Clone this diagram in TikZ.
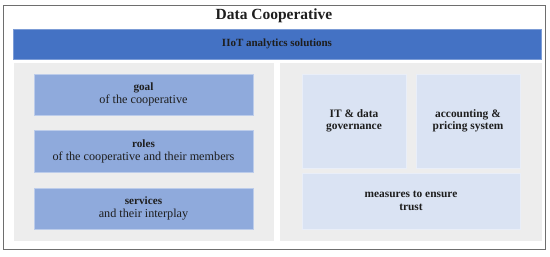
\documentclass[tikz,border=0pt]{standalone}
\usepackage{fontspec}
\setmainfont{Liberation Serif}
\usetikzlibrary{positioning}
\definecolor{dcInk}{HTML}{1E1E1E}
\definecolor{dcFrame}{HTML}{6E6E6E}
\definecolor{dcBar}{HTML}{4472C4}
\definecolor{dcMid}{HTML}{8FAADC}
\definecolor{dcPale}{HTML}{DAE3F3}
\definecolor{dcPanel}{HTML}{EDEDED}
\newcommand{\coopPart}[1]{{\fontsize{11.2}{13}\selectfont\bfseries #1}}
\tikzset{
 coop/.style={font=\fontsize{12.2}{13}\selectfont,text=dcInk},
 frame/.style={rectangle,draw=dcFrame,line width=.9pt,fill=white,inner sep=0pt},
 bar/.style={rectangle,fill=dcBar,draw=dcBar!70!white,line width=.4pt,inner sep=0pt,font=\fontsize{11}{13}\selectfont\bfseries},
 panel/.style={rectangle,fill=dcPanel,inner sep=0pt},
 partbox/.style={rectangle,fill=dcMid,draw=dcMid!60!white,line width=.4pt,inner sep=0pt,align=center,minimum width=219pt},
 rulebox/.style={rectangle,fill=dcPale,draw=dcPale!60!white,line width=.4pt,inner sep=0pt,align=center,
   font=\fontsize{11.4}{12.5}\selectfont\bfseries},
 heading/.style={font=\fontsize{15.5}{17}\selectfont\bfseries}
}
\begin{document}
\begin{tikzpicture}[coop,x=1pt,y=-1pt]
 \useasboundingbox (0,0) rectangle (550,257);
 \node[frame,minimum width=542pt,minimum height=244pt] (frame) at (274,127) {};
 \node[heading] (title) at (274,16) {Data Cooperative};
 \node[bar,minimum width=528pt,minimum height=30pt] (iiot) at (277,44) {IIoT analytics solutions};
 % left: elements of the cooperative
 \node[panel,minimum width=260pt,minimum height=178pt] (left) at (144,152) {};
 \node[partbox,minimum height=41pt] (goal) at (143.5,94.5) {\coopPart{goal}\\of the cooperative};
 \node[partbox,minimum height=42pt] (roles) at (143.5,151) {\coopPart{roles}\\of the cooperative and their members};
 \node[partbox,minimum height=41pt] (services) at (143.5,208.5) {\coopPart{services}\\and their interplay};
 % right: governance
 \node[panel,minimum width=262pt,minimum height=178pt] (right) at (411,152) {};
 \node[rulebox,minimum width=104pt,minimum height=94pt] (itgov) at (354,121) {IT \& data\\governance};
 \node[rulebox,minimum width=104pt,minimum height=94pt] (pricing) at (468,121) {accounting \&\\pricing system};
 \node[rulebox,minimum width=218pt,minimum height=56pt] (trust) at (411,201) {measures to ensure\\trust};
\end{tikzpicture}
\end{document}
